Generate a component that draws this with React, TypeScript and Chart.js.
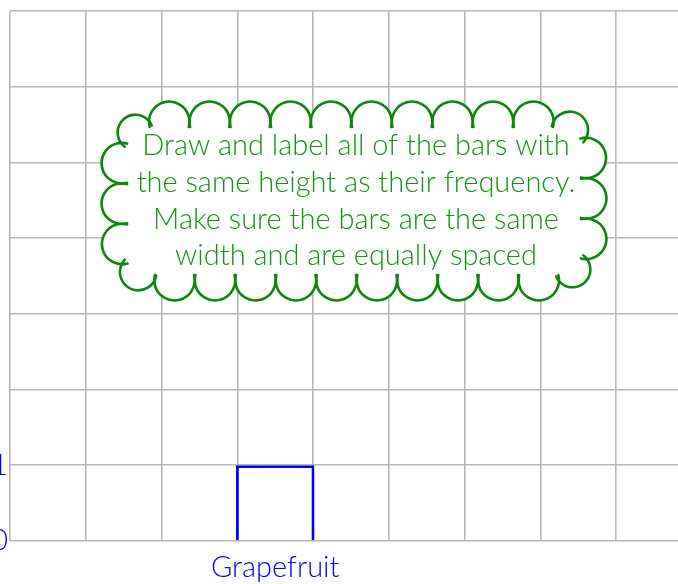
import React, { useEffect, useRef } from 'react';
import { Chart, registerables } from 'chart.js';

Chart.register(...registerables);

// ---- data ----
const categories = ['', '', '', 'Grapefruit', '', '', '', '', ''];
const frequencies: (number | null)[] = [null, null, null, 1, null, null, null, null, null];
const yTickLabels = ['0', '1'];
const yMin = 0;
const yMax = 7;
const noteLines = [
  'Draw and label all of the bars with',
  'the same height as their frequency.',
  'Make sure the bars are the same',
  'width and are equally spaced',
];

const BLUE = '#0000ff';
const GREEN = '#0c860c';
const TEXT_GREEN = '#149414';
const GRID = '#b8b8b8';
const FONT = 'Lato';
const BAR_BORDER = 2.8;

const cloudPlugin = {
  id: 'cloudNote',
  afterDraw(chart: any) {
    const ctx = chart.ctx as CanvasRenderingContext2D;
    const ca = chart.chartArea;
    const ox = ca.left - 10;
    const oy = ca.top - 11;
    const x0 = 121 + ox, x1 = 587 + ox, y0 = 121 + oy, y1 = 281 + oy;
    const r = 22;
    const w = x1 - x0, h = y1 - y0;
    const straightH = w - 2 * r, straightV = h - 2 * r;
    const q = (Math.PI * r) / 2;
    const P = 2 * straightH + 2 * straightV + 4 * q;
    const pointAt = (s: number): [number, number] => {
      s = ((s % P) + P) % P;
      if (s < straightH) return [x0 + r + s, y0];
      s -= straightH;
      if (s < q) { const a = -Math.PI / 2 + s / r; return [x1 - r + r * Math.cos(a), y0 + r + r * Math.sin(a)]; }
      s -= q;
      if (s < straightV) return [x1, y0 + r + s];
      s -= straightV;
      if (s < q) { const a = s / r; return [x1 - r + r * Math.cos(a), y1 - r + r * Math.sin(a)]; }
      s -= q;
      if (s < straightH) return [x1 - r - s, y1];
      s -= straightH;
      if (s < q) { const a = Math.PI / 2 + s / r; return [x0 + r + r * Math.cos(a), y1 - r + r * Math.sin(a)]; }
      s -= q;
      if (s < straightV) return [x0, y1 - r - s];
      s -= straightV;
      const a = Math.PI + s / r;
      return [x0 + r + r * Math.cos(a), y0 + r + r * Math.sin(a)];
    };
    const N = Math.round(P / 40);
    const step = P / N;
    const norm = (v: number) => ((v % (2 * Math.PI)) + 2 * Math.PI) % (2 * Math.PI);
    const arcs: { cx: number; cy: number; rr: number; a0: number; sweep: number }[] = [];
    for (let i = 0; i < N; i++) {
      const A = pointAt(i * step + 6);
      const B = pointAt((i + 1) * step + 6);
      const dx = B[0] - A[0], dy = B[1] - A[1];
      const c = Math.hypot(dx, dy);
      const nx = dy / c, ny = -dx / c; // outward
      const mx = (A[0] + B[0]) / 2, my = (A[1] + B[1]) / 2;
      const sag = 0.48 * c;
      const rr = (c * c / 4 + sag * sag) / (2 * sag);
      const cx = mx + nx * (sag - rr), cy = my + ny * (sag - rr);
      const a0 = Math.atan2(A[1] - cy, A[0] - cx);
      const a1 = Math.atan2(B[1] - cy, B[0] - cx);
      const am = Math.atan2(my + ny * sag - cy, mx + nx * sag - cx);
      const d1 = norm(a1 - a0), dm = norm(am - a0);
      const sweep = dm < d1 ? d1 : d1 - 2 * Math.PI;
      arcs.push({ cx, cy, rr, a0, sweep });
    }
    ctx.save();
    ctx.fillStyle = '#ffffff';
    ctx.beginPath();
    ctx.roundRect(x0, y0, w, h, r);
    ctx.fill();
    arcs.forEach((a) => {
      ctx.beginPath();
      ctx.arc(a.cx, a.cy, a.rr, 0, Math.PI * 2);
      ctx.fill();
    });
    ctx.strokeStyle = GREEN;
    ctx.lineWidth = 2.6;
    ctx.lineCap = 'round';
    arcs.forEach((a) => {
      const sign = a.sweep >= 0 ? 1 : -1;
      const ext = 0.3;
      ctx.beginPath();
      ctx.arc(a.cx, a.cy, a.rr, a.a0 - sign * ext, a.a0 + a.sweep + sign * ext, sign < 0);
      ctx.stroke();
    });
    ctx.fillStyle = TEXT_GREEN;
    ctx.font = `300 29px ${FONT}`;
    ctx.textAlign = 'center';
    ctx.textBaseline = 'alphabetic';
    const cxText = 356 + ox;
    const baselines = [155, 192, 229, 265];
    noteLines.forEach((t, i) => ctx.fillText(t, cxText, baselines[i] + oy));
    ctx.restore();
  },
};

export default function App() {
  const ref = useRef<HTMLCanvasElement | null>(null);
  useEffect(() => {
    if (!ref.current) return;
    const cell = 682 / categories.length;
    const chart = new Chart(ref.current, {
      type: 'bar',
      data: {
        labels: categories,
        datasets: [
          {
            data: frequencies as any,
            backgroundColor: 'rgba(0,0,0,0)',
            borderColor: BLUE,
            borderWidth: BAR_BORDER,
            borderSkipped: 'bottom',
            inflateAmount: 0,
            barPercentage: 1 + BAR_BORDER / cell,
            categoryPercentage: 1,
          } as any,
        ],
      },
      options: {
        responsive: false,
        animation: false,
        events: [],
        layout: { padding: { top: 11, left: 0, right: 0, bottom: 0 } },
        plugins: { legend: { display: false }, tooltip: { enabled: false } },
        scales: {
          x: {
            offset: true,
            grid: { color: GRID, lineWidth: 1.6, drawTicks: false, offset: true },
            border: { display: false },
            ticks: { color: BLUE, font: { family: FONT, size: 29, weight: 300 as any }, padding: 9, maxRotation: 0, autoSkip: false },
            afterFit: (s: any) => { s.height = 43; s.paddingLeft = 0; s.paddingRight = 0; },
          },
          y: {
            min: yMin,
            max: yMax,
            grid: { color: GRID, lineWidth: 1.6, drawTicks: false },
            border: { display: false },
            ticks: {
              stepSize: 1,
              color: BLUE,
              font: { family: FONT, size: 29, weight: 300 as any },
              padding: 2,
              callback: (v: any) => (yTickLabels[v] !== undefined ? yTickLabels[v] : ''),
            },
            afterFit: (s: any) => { s.width = 40; s.paddingTop = 0; s.paddingBottom = 0; },
          },
        },
      },
      plugins: [cloudPlugin],
    });
    return () => chart.destroy();
  }, []);
  return (
    <div style={{ position: 'fixed', left: 0, top: 0, width: 678, height: 584, overflow: 'hidden', background: '#fff' }}>
      <div style={{ position: 'absolute', left: -30, top: 0, width: 722, height: 584 }}>
        <canvas ref={ref} width={722} height={584} style={{ display: 'block' }} />
      </div>
    </div>
  );
}
